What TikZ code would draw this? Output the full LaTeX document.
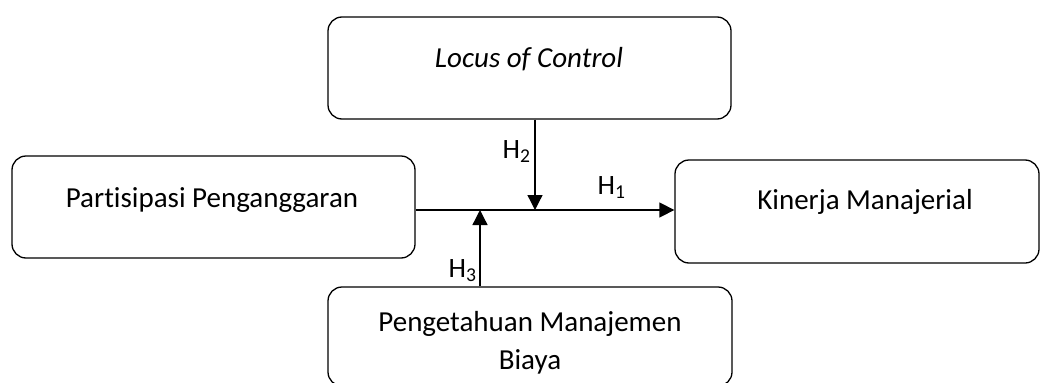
\documentclass[tikz,border=0pt]{standalone}
\usepackage{fontspec}
\setmainfont{Carlito}[Ligatures=NoCommon]
\usetikzlibrary{arrows.meta}

\begin{document}
\begin{tikzpicture}[x=1pt,y=-1pt,line width=1.3pt,
    box/.style={draw, rounded corners=14pt, inner sep=0pt},
    lbl/.style={font=\fontsize{29}{38}\selectfont, align=center, inner sep=0pt, anchor=base},
    hyp/.style={font=\fontsize{28}{30}\selectfont, inner sep=0pt, anchor=base west},
    tip/.style={-{Triangle[length=15pt,width=15pt]}}]
            \useasboundingbox (0,0) rectangle (1042,383);
            % kotak variabel
            \node[box, minimum width=403pt, minimum height=102pt] (loc) at (529.5,68) {};
            \node[box, minimum width=403pt, minimum height=102pt] (pp) at (213.5,207) {};
            \node[box, minimum width=364pt, minimum height=103pt] (km) at (857,211.5) {};
            \node[box, minimum width=404pt, minimum height=99pt] (pmb) at (530,336.5) {};

            \node[lbl] (locT) at (529,67) {\itshape Locus of Control};
            \node[lbl] (ppT) at (212,207) {Partisipasi Penganggaran};
            \node[lbl] (kmT) at (865,209) {Kinerja Manajerial};
            \node[lbl] (pmbT) at (530,369) {Pengetahuan Manajemen\\Biaya};

            % garis hipotesis
            \coordinate (mid) at (0,210);
            \coordinate (a2) at (535,210);
            \coordinate (a3) at (480,210);
            \draw[tip] (pp.east |- mid) -- (km.west |- mid);
            \draw[tip] (loc.south -| a2) -- (a2);
            \draw[tip] (pmb.north -| a3) -- (a3);

            \node[hyp] (h1) at (597,194) {H\textsubscript{1}};
            \node[hyp] (h2) at (502,158) {H\textsubscript{2}};
            \node[hyp] (h3) at (448,277) {H\textsubscript{3}};
        \end{tikzpicture}
\end{document}
